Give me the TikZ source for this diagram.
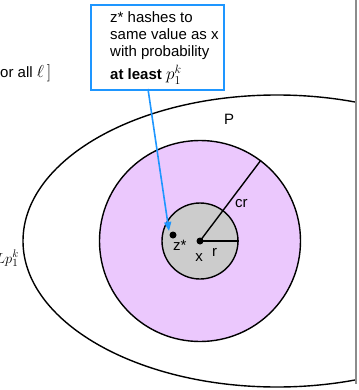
\documentclass[tikz,border=0pt]{standalone}
\usepackage{fontspec}
\setmainfont{Liberation Sans}
\usetikzlibrary{arrows.meta,shapes.geometric}
\definecolor{pinkfill}{RGB}{235,200,253}
\definecolor{grayfill}{RGB}{204,204,204}
\definecolor{calloutblue}{RGB}{30,150,255}
\definecolor{framegray}{RGB}{140,140,140}
\tikzset{
  outline/.style={draw=black, line width=1.4pt},
  dotmark/.style={circle, fill=black, minimum size=7pt, inner sep=0pt},
  lbl/.style={font=\fontsize{15}{17}\selectfont, inner sep=0pt},
  calloutbox/.style={draw=calloutblue, line width=1.6pt, fill=white, inner sep=0pt},
  calloutarrow/.style={draw=calloutblue, line width=1.6pt, -{Triangle[length=9pt,width=7pt]}},
}
\begin{document}
\begin{tikzpicture}[x=1pt,y=-1pt]
\useasboundingbox (0,0) rectangle (358,390);
\begin{scope}
\clip (0,0) rectangle (358,390);
% outer ellipse, cut by the frame
\begin{scope}
\clip (0,0) rectangle (355,390);
\node[ellipse, outline, minimum width=508pt, minimum height=292pt, inner sep=0pt] (P) at (277,241) {};
\end{scope}
\coordinate (ftop) at (356,0);
\coordinate (fbot) at (356,384);
\draw[framegray, line width=1.8pt] (ftop) -- (fbot);
% circles
\node[circle, outline, fill=pinkfill, minimum size=201pt, inner sep=0pt] (big) at (200,241) {};
\node[circle, outline, fill=grayfill, minimum size=76pt, inner sep=0pt] (small) at (200,241) {};
\node[dotmark] (x) at (200,241) {};
\node[dotmark] (z) at (173,235) {};
\draw[line width=1.4pt] (x.center) -- (small.0);
\draw[line width=1.4pt] (x.center) -- (big.53);
% labels
\node[lbl, anchor=base] (Plbl) at (229,125) {P};
\node[lbl, anchor=base west] (crlbl) at (235,207) {cr};
\node[lbl, anchor=base west] (rlbl) at (212,256) {r};
\node[lbl, anchor=base] (xlbl) at (199,261) {x};
\node[lbl, anchor=base west] (zlbl) at (173,250) {z*};
% cut-off texts at the left
\node[lbl, anchor=base west] (forall) at (0,78) {or all {\fontsize{19}{19}\selectfont$\ell\,]$}};
\node[lbl, anchor=base east] (bound) at (19,263) {$Lp_1^k$};
% callout
\node[calloutbox, minimum width=133pt, minimum height=85pt, anchor=north west] (note) at (90,4) {};
\node[lbl, anchor=base west, align=left] (notetext) at (110,80)
  {z* hashes to\\same value as x\\with probability\\[5pt]\textbf{at least} {\fontsize{17}{17}\selectfont$p_1^k$}};
\coordinate (tail) at (148,89);
\coordinate (head) at (169,231);
\draw[calloutarrow] (tail) -- (head);
\end{scope}
\end{tikzpicture}
\end{document}
